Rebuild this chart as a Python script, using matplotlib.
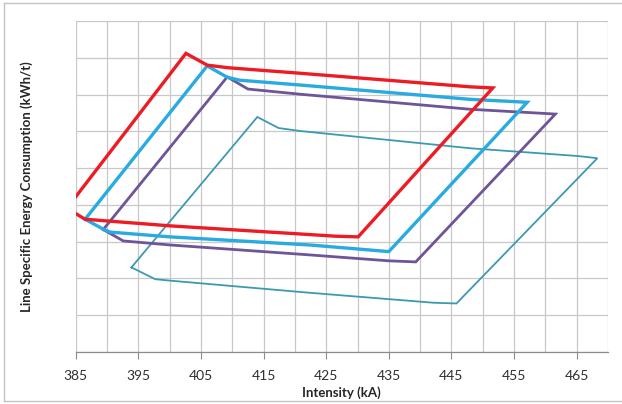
import matplotlib
matplotlib.use("Agg")
import matplotlib.pyplot as plt
from matplotlib.lines import Line2D
from matplotlib.ticker import MultipleLocator, NullFormatter

plt.rcParams['font.family'] = ['Lato', 'DejaVu Sans']

# loops of intensity (kA) vs specific energy consumption (arbitrary units, gridline = 1)
red_x = [383.6, 402.6, 406.0, 409.3, 420.8, 430.4, 448.0, 451.6, 430.1, 426.4, 400.1, 386.5, 383.6]
red_y = [3.91, 8.12, 7.80, 7.73, 7.58, 7.45, 7.21, 7.18, 3.13, 3.15, 3.43, 3.61, 3.91]

blue_x = [386.5, 406.0, 409.2, 411.2, 420.8, 448.0, 457.1, 435.0, 422.4, 400.1, 390.5, 389.4, 386.5]
blue_y = [3.61, 7.78, 7.47, 7.39, 7.26, 6.87, 6.79, 2.73, 2.91, 3.13, 3.26, 3.34, 3.61]

purple_x = [389.4, 409.2, 412.5, 420.8, 448.0, 461.6, 439.3, 434.9, 422.4, 400.1, 392.6, 389.4]
purple_y = [3.33, 7.48, 7.15, 7.01, 6.60, 6.47, 2.45, 2.48, 2.64, 2.91, 3.02, 3.33]

teal_x = [393.9, 414.0, 417.4, 420.8, 448.0, 465.1, 468.3, 445.8, 442.1, 422.4, 400.1, 397.7, 393.9]
teal_y = [2.30, 6.39, 6.09, 6.01, 5.54, 5.33, 5.27, 1.32, 1.34, 1.61, 1.94, 1.98, 2.30]

x_ticks = [385, 395, 405, 415, 425, 435, 445, 455, 465]

fig = plt.figure(figsize=(6.22, 4.04), dpi=100)
ax = fig.add_axes([0.1217, 0.1287, 0.8558, 0.8193])

ax.plot(teal_x, teal_y, color='#3c9ab0', lw=1.3, solid_joinstyle='miter')
ax.plot(purple_x, purple_y, color='#6e5597', lw=2.0, solid_joinstyle='miter')
ax.plot(blue_x, blue_y, color='#29abe2', lw=2.4, solid_joinstyle='miter')
ax.plot(red_x, red_y, color='#ed1c24', lw=2.4, solid_joinstyle='miter')

ax.set_xlim(385, 470)
ax.set_ylim(0, 9)
ax.set_xticks(x_ticks)
ax.xaxis.set_minor_locator(MultipleLocator(5))
ax.xaxis.set_minor_formatter(NullFormatter())
ax.set_yticks(range(10))
ax.set_yticklabels([])
ax.tick_params(axis='y', length=0)
ax.tick_params(axis='x', which='major', length=5, width=0.8, color='#8c8c8c',
               labelsize=10, pad=8, labelcolor='#303030')
ax.tick_params(axis='x', which='minor', length=0)

ax.grid(True, which='both', axis='x', color='#c8c8c8', lw=0.9)
ax.grid(True, which='major', axis='y', color='#c8c8c8', lw=0.9)
ax.set_axisbelow(True)

for s in ['top', 'right', 'left']:
    ax.spines[s].set_visible(False)
ax.spines['bottom'].set_color('#8c8c8c')
ax.spines['bottom'].set_linewidth(0.9)

ax.set_xlabel('Intensity (kA)', fontsize=9.5, fontweight='bold', labelpad=3, color='#262626')
ax.set_ylabel('Line Specific Energy Consumption (kWh/t)', fontsize=9.5, fontweight='bold',
              labelpad=27, color='#262626')

# outer chart border
border = dict(color='#c4c4c4', lw=1.0, transform=fig.transFigure)
fig.add_artist(Line2D([0.006, 1.0], [0.993, 0.993], **border))
fig.add_artist(Line2D([0.006, 1.0], [0.007, 0.007], **border))
fig.add_artist(Line2D([0.006, 0.006], [0.007, 0.993], **border))

fig.savefig('out.png', dpi=100)
